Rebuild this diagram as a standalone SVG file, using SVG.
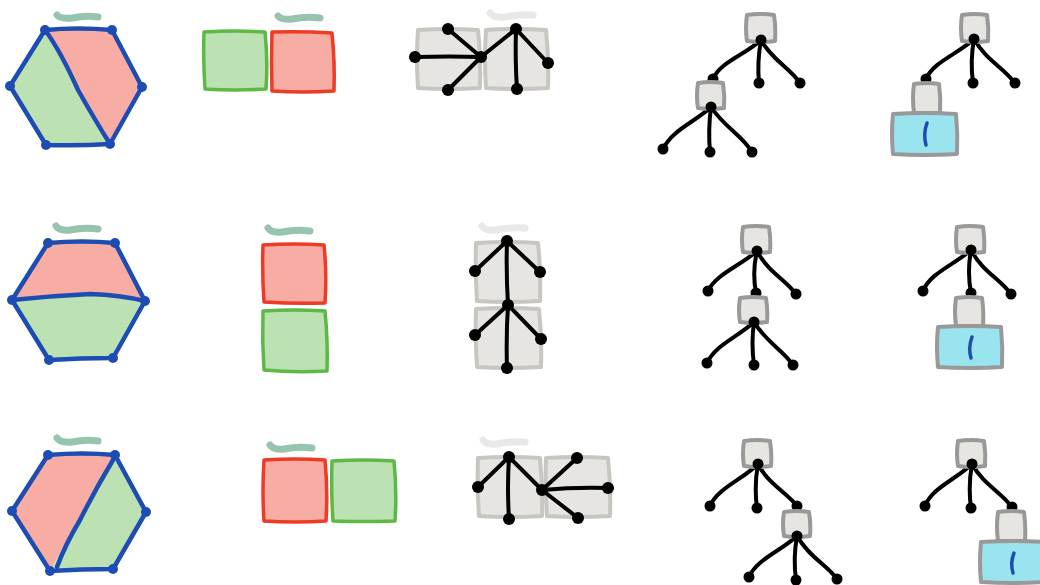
<svg xmlns="http://www.w3.org/2000/svg" width="1040" height="585" viewBox="0 0 1040 585">
  <style>
    .hex { stroke: #1d4cb3; stroke-width: 4.5; fill: none; stroke-linejoin: round; stroke-linecap: round; }
    .hexdot { fill: #1d4cb3; }
    .fg { fill: #bce2b3; }
    .fr { fill: #f7aca4; }
    .sqg { fill: #bce2b3; stroke: #5cb946; stroke-width: 3.5; stroke-linejoin: round; }
    .sqr { fill: #f7aca4; stroke: #ee3b26; stroke-width: 3.5; stroke-linejoin: round; }
    .sqgray { fill: #e6e5e2; stroke: #c8c6c0; stroke-width: 4; stroke-linejoin: round; }
    .box { fill: #e6e5e2; stroke: #999999; stroke-width: 4; stroke-linejoin: round; }
    .cyan { fill: #9ae4f0; stroke: #999999; stroke-width: 4; stroke-linejoin: round; }
    .mark { fill: none; stroke: #1d4cb3; stroke-width: 3.5; stroke-linecap: round; }
    .squig { fill: none; stroke: #96c4ae; stroke-width: 7; stroke-linecap: round; }
    .squig-l { fill: none; stroke: #e8e8e6; stroke-width: 7; stroke-linecap: round; }
    .edge { fill: none; stroke: #000; stroke-width: 4; stroke-linecap: round; }
    .dot { fill: #000; }
  </style>

  <!-- ===== Row 1 ===== -->
  <g id="hex-r1">
    <path class="squig" d="M57,15 Q60,19 72,18 Q86,15 98,17"/>
    <path class="fg" d="M45,30 L10,86 L46,145 L110,144 Z"/>
    <path class="fr" d="M45,30 L112,30 L142,87 L110,144 Z"/>
    <path class="hex" d="M45,30 Q78,27 112,30 L142,87 L110,144 Q78,146 46,145 L10,86 Z"/>
    <path class="hex" d="M45,30 Q60,50 78,90 Q95,120 110,144"/>
    <circle class="hexdot" cx="45" cy="30" r="5"/><circle class="hexdot" cx="112" cy="30" r="5"/>
    <circle class="hexdot" cx="142" cy="87" r="5"/><circle class="hexdot" cx="110" cy="144" r="5"/>
    <circle class="hexdot" cx="46" cy="145" r="5"/><circle class="hexdot" cx="10" cy="86" r="5"/>
  </g>
  <g id="squares-r1">
    <path class="squig" d="M278,16 Q281,20 292,19 Q306,16 320,18"/>
    <path class="sqg" d="M204,32 Q235,30 265,32 Q268,60 266,89 Q235,91 205,89 Q203,60 204,32 Z"/>
    <path class="sqr" d="M272,32 Q303,31 332,33 Q335,62 334,91 Q303,93 272,91 Q271,62 272,32 Z"/>
  </g>
  <g id="gray-pair-r1">
    <path class="squig-l" d="M490,13 Q493,18 505,17 Q519,14 533,15"/>
    <path class="sqgray" d="M418,30 Q448,28 478,30 Q481,59 480,88 Q449,90 418,88 Q416,59 418,30 Z"/>
    <path class="sqgray" d="M486,30 Q516,28 546,30 Q549,59 548,88 Q517,90 486,88 Q484,59 486,30 Z"/>
  </g>

  <!-- ===== Row 2 ===== -->
  <g id="hex-r2">
    <path class="squig" d="M56,226 Q59,231 70,230 Q84,227 98,229"/>
    <path class="fr" d="M48,243 L115,243 L145,301 Q120,295 90,294 Q50,294 12,300 Z"/>
    <path class="fg" d="M12,300 Q50,294 90,294 Q120,295 145,301 L113,358 L49,360 Z"/>
    <path class="hex" d="M48,243 Q82,240 115,243 L145,301 L113,358 Q81,358 49,360 L12,300 Z"/>
    <path class="hex" d="M12,300 Q50,296 90,294 Q120,295 145,301"/>
    <circle class="hexdot" cx="48" cy="243" r="5"/><circle class="hexdot" cx="115" cy="243" r="5"/>
    <circle class="hexdot" cx="145" cy="301" r="5"/><circle class="hexdot" cx="113" cy="358" r="5"/>
    <circle class="hexdot" cx="49" cy="360" r="5"/><circle class="hexdot" cx="12" cy="300" r="5"/>
  </g>
  <g id="squares-r2">
    <path class="squig" d="M268,228 Q271,233 282,232 Q296,229 310,231"/>
    <path class="sqr" d="M263,245 Q294,243 324,245 Q327,274 325,303 Q294,304 264,302 Q262,274 263,245 Z"/>
    <path class="sqg" d="M263,311 Q294,309 325,311 Q328,341 327,371 Q295,373 264,370 Q262,341 263,311 Z"/>
  </g>
  <g id="gray-pair-r2">
    <path class="squig-l" d="M482,226 Q485,231 496,230 Q510,227 525,228"/>
    <path class="sqgray" d="M476,243 Q507,241 538,243 Q541,272 540,301 Q508,303 477,301 Q475,272 476,243 Z"/>
    <path class="sqgray" d="M476,309 Q507,307 539,309 Q542,338 541,367 Q509,369 477,367 Q475,338 476,309 Z"/>
  </g>

  <!-- ===== Row 3 ===== -->
  <g id="hex-r3">
    <path class="squig" d="M57,438 Q60,443 72,442 Q86,439 98,441"/>
    <path class="fr" d="M48,455 L115,455 L50,571 L12,511 Z"/>
    <path class="fg" d="M115,455 L146,512 L113,569 L50,571 Z"/>
    <path class="hex" d="M48,455 Q82,452 115,455 L146,512 L113,569 Q82,569 50,571 L12,511 Z"/>
    <path class="hex" d="M113,460 Q95,490 80,520 Q65,545 57,567"/>
    <circle class="hexdot" cx="48" cy="455" r="5"/><circle class="hexdot" cx="115" cy="455" r="5"/>
    <circle class="hexdot" cx="146" cy="512" r="5"/><circle class="hexdot" cx="113" cy="569" r="5"/>
    <circle class="hexdot" cx="50" cy="571" r="5"/><circle class="hexdot" cx="12" cy="511" r="5"/>
  </g>
  <g id="squares-r3">
    <path class="squig" d="M270,445 Q273,450 284,449 Q298,446 312,448"/>
    <path class="sqr" d="M264,460 Q295,458 325,460 Q328,491 326,521 Q295,523 264,521 Q262,491 264,460 Z"/>
    <path class="sqg" d="M332,461 Q364,459 394,461 Q397,491 395,521 Q364,522 333,521 Q331,491 332,461 Z"/>
  </g>
  <g id="gray-pair-r3">
    <path class="squig-l" d="M483,440 Q486,445 497,444 Q511,441 525,442"/>
    <path class="sqgray" d="M478,458 Q509,456 540,458 Q543,487 542,516 Q510,518 479,516 Q477,487 478,458 Z"/>
    <path class="sqgray" d="M546,458 Q577,456 608,458 Q611,487 610,516 Q578,518 547,516 Q545,487 546,458 Z"/>
  </g>

  <!-- ===== Connectors ===== -->
  <g id="connectors">
    <!-- row 1, small graph -->
    <path class="edge" d="M481,57 Q450,56 415,57"/>
    <path class="edge" d="M481,57 L448,29"/>
    <path class="edge" d="M481,57 L448,90"/>
    <path class="edge" d="M481,57 L516,29"/>
    <path class="edge" d="M516,29 L548,63"/>
    <path class="edge" d="M516,29 Q515,60 517,89"/>
    <!-- row 1, tree with nested subtree -->
    <path class="edge" d="M761,40 C745,55 720,62 713,79"/>
    <path class="edge" d="M761,40 Q757,62 759,83"/>
    <path class="edge" d="M761,40 C772,60 790,68 800,83"/>
    <path class="edge" d="M711,107 C695,122 672,130 663,149"/>
    <path class="edge" d="M711,107 Q708,130 710,152"/>
    <path class="edge" d="M711,107 C725,128 742,135 752,152"/>
    <!-- row 1, tree with editor leaf -->
    <path class="edge" d="M974,39 C958,54 933,62 926,79"/>
    <path class="edge" d="M974,39 Q970,61 973,83"/>
    <path class="edge" d="M974,39 C986,60 1004,68 1015,83"/>

    <!-- row 2, small graph -->
    <path class="edge" d="M507,241 L475,271"/>
    <path class="edge" d="M507,241 Q525,258 540,272"/>
    <path class="edge" d="M507,241 Q506,272 508,305"/>
    <path class="edge" d="M508,305 L475,335"/>
    <path class="edge" d="M508,305 L541,339"/>
    <path class="edge" d="M508,305 Q506,336 507,368"/>
    <!-- row 2, tree with nested subtree -->
    <path class="edge" d="M757,251 C740,266 716,274 708,291"/>
    <path class="edge" d="M757,251 Q752,272 756,293"/>
    <path class="edge" d="M757,251 C768,272 786,280 796,294"/>
    <path class="edge" d="M754,322 C738,337 715,345 707,363"/>
    <path class="edge" d="M754,322 Q751,343 754,365"/>
    <path class="edge" d="M754,322 C766,342 783,350 793,365"/>
    <!-- row 2, tree with editor leaf -->
    <path class="edge" d="M971,250 C954,265 930,273 923,291"/>
    <path class="edge" d="M971,250 Q967,272 971,293"/>
    <path class="edge" d="M971,250 C982,271 1000,279 1011,294"/>

    <!-- row 3, small graph -->
    <path class="edge" d="M509,457 L478,487"/>
    <path class="edge" d="M509,457 Q507,488 509,519"/>
    <path class="edge" d="M509,457 L542,490"/>
    <path class="edge" d="M542,490 L577,458"/>
    <path class="edge" d="M542,490 Q575,487 608,488"/>
    <path class="edge" d="M542,490 L578,518"/>
    <!-- row 3, tree with nested subtree -->
    <path class="edge" d="M758,464 C742,480 718,488 710,506"/>
    <path class="edge" d="M758,464 Q754,486 757,508"/>
    <path class="edge" d="M758,464 C768,484 786,492 797,506"/>
    <path class="edge" d="M797,536 C781,551 757,559 749,577"/>
    <path class="edge" d="M797,536 Q793,558 796,580"/>
    <path class="edge" d="M797,536 C809,557 827,565 837,579"/>
    <!-- row 3, tree with editor leaf -->
    <path class="edge" d="M972,464 C955,480 932,488 925,506"/>
    <path class="edge" d="M972,464 Q968,486 971,508"/>
    <path class="edge" d="M972,464 C983,484 1001,492 1012,507"/>
  </g>

  <!-- ===== Graph dots ===== -->
  <g id="graph-r1">
    <circle class="dot" cx="481" cy="57" r="6"/><circle class="dot" cx="415" cy="57" r="6"/>
    <circle class="dot" cx="448" cy="29" r="6"/><circle class="dot" cx="448" cy="90" r="6"/>
    <circle class="dot" cx="516" cy="29" r="6"/><circle class="dot" cx="548" cy="63" r="6"/>
    <circle class="dot" cx="517" cy="89" r="6"/>
  </g>
  <g id="graph-r2">
    <circle class="dot" cx="507" cy="241" r="6"/><circle class="dot" cx="475" cy="271" r="6"/>
    <circle class="dot" cx="540" cy="272" r="6"/><circle class="dot" cx="508" cy="305" r="6"/>
    <circle class="dot" cx="475" cy="335" r="6"/><circle class="dot" cx="541" cy="339" r="6"/>
    <circle class="dot" cx="507" cy="368" r="6"/>
  </g>
  <g id="graph-r3">
    <circle class="dot" cx="509" cy="457" r="6"/><circle class="dot" cx="478" cy="487" r="6"/>
    <circle class="dot" cx="509" cy="519" r="6"/><circle class="dot" cx="542" cy="490" r="6"/>
    <circle class="dot" cx="577" cy="458" r="6"/><circle class="dot" cx="608" cy="488" r="6"/>
    <circle class="dot" cx="578" cy="518" r="6"/>
  </g>

  <!-- ===== Trees: nested subtree ===== -->
  <g id="tree-r1">
    <path class="box" d="M747,15 Q760,13 774,15 Q776,28 775,41 Q761,43 747,41 Q745,28 747,15 Z"/>
    <circle class="dot" cx="761" cy="40" r="5.5"/>
    <circle class="dot" cx="713" cy="79" r="5.5"/>
    <circle class="dot" cx="759" cy="83" r="5.5"/><circle class="dot" cx="800" cy="83" r="5.5"/>
    <path class="box" d="M698,83 Q711,81 723,83 Q725,96 724,108 Q711,110 698,108 Q696,96 698,83 Z"/>
    <circle class="dot" cx="711" cy="107" r="5.5"/>
    <circle class="dot" cx="663" cy="149" r="5.5"/><circle class="dot" cx="710" cy="152" r="5.5"/>
    <circle class="dot" cx="752" cy="152" r="5.5"/>
  </g>
  <g id="tree-r2">
    <path class="box" d="M743,227 Q756,225 769,227 Q771,240 770,252 Q756,254 743,252 Q741,240 743,227 Z"/>
    <circle class="dot" cx="757" cy="251" r="5.5"/>
    <circle class="dot" cx="708" cy="291" r="5.5"/><circle class="dot" cx="796" cy="294" r="5.5"/>
    <circle class="dot" cx="756" cy="293" r="5.5"/>
    <path class="box" d="M740,298 Q753,296 766,298 Q768,310 767,322 Q753,324 740,322 Q738,310 740,298 Z"/>
    <circle class="dot" cx="754" cy="322" r="5.5"/>
    <circle class="dot" cx="707" cy="363" r="5.5"/><circle class="dot" cx="754" cy="365" r="5.5"/>
    <circle class="dot" cx="793" cy="365" r="5.5"/>
  </g>
  <g id="tree-r3">
    <path class="box" d="M744,441 Q757,439 770,441 Q772,454 771,466 Q757,468 744,466 Q742,454 744,441 Z"/>
    <circle class="dot" cx="758" cy="464" r="5.5"/>
    <circle class="dot" cx="710" cy="506" r="5.5"/><circle class="dot" cx="757" cy="508" r="5.5"/>
    <circle class="dot" cx="797" cy="506" r="5.5"/>
    <path class="box" d="M784,512 Q797,510 809,512 Q811,524 810,536 Q797,538 784,536 Q782,524 784,512 Z"/>
    <circle class="dot" cx="797" cy="536" r="5.5"/>
    <circle class="dot" cx="749" cy="577" r="5.5"/><circle class="dot" cx="796" cy="580" r="5.5"/>
    <circle class="dot" cx="837" cy="579" r="5.5"/>
  </g>

  <!-- ===== Trees: editor leaf ===== -->
  <g id="editor-tree-r1">
    <path class="box" d="M962,15 Q975,13 987,15 Q989,28 988,41 Q975,43 962,41 Q960,28 962,15 Z"/>
    <circle class="dot" cx="974" cy="39" r="5.5"/>
    <circle class="dot" cx="926" cy="79" r="5.5"/>
    <circle class="dot" cx="973" cy="83" r="5.5"/><circle class="dot" cx="1015" cy="83" r="5.5"/>
    <path class="box" d="M914,84 Q927,82 939,84 Q941,98 940,113 L914,113 Q912,98 914,84 Z"/>
    <path class="cyan" d="M893,114 Q925,112 956,114 Q958,134 957,154 Q925,156 893,154 Q891,134 893,114 Z"/>
    <path class="mark" d="M927,123 Q923,134 926,145"/>
  </g>
  <g id="editor-tree-r2">
    <path class="box" d="M957,227 Q970,225 983,227 Q985,240 984,252 Q970,254 957,252 Q955,240 957,227 Z"/>
    <circle class="dot" cx="971" cy="250" r="5.5"/>
    <circle class="dot" cx="923" cy="291" r="5.5"/><circle class="dot" cx="1011" cy="294" r="5.5"/>
    <circle class="dot" cx="971" cy="293" r="5.5"/>
    <path class="box" d="M956,298 Q969,296 982,298 Q984,311 983,326 L956,326 Q954,311 956,298 Z"/>
    <path class="cyan" d="M938,327 Q970,325 1001,327 Q1003,347 1002,367 Q970,369 938,367 Q936,347 938,327 Z"/>
    <path class="mark" d="M972,337 Q968,348 971,358"/>
  </g>
  <g id="editor-tree-r3">
    <path class="box" d="M958,441 Q971,439 984,441 Q986,454 985,466 Q971,468 958,466 Q956,454 958,441 Z"/>
    <circle class="dot" cx="972" cy="464" r="5.5"/>
    <circle class="dot" cx="925" cy="506" r="5.5"/><circle class="dot" cx="971" cy="508" r="5.5"/>
    <circle class="dot" cx="1012" cy="507" r="5.5"/>
    <path class="box" d="M998,512 Q1011,510 1024,512 Q1026,526 1025,541 L998,541 Q996,526 998,512 Z"/>
    <path class="cyan" d="M981,542 Q1013,540 1044,542 Q1046,562 1045,582 Q1013,584 981,582 Q979,562 981,542 Z"/>
    <path class="mark" d="M1014,553 Q1010,563 1013,573"/>
  </g>
</svg>
